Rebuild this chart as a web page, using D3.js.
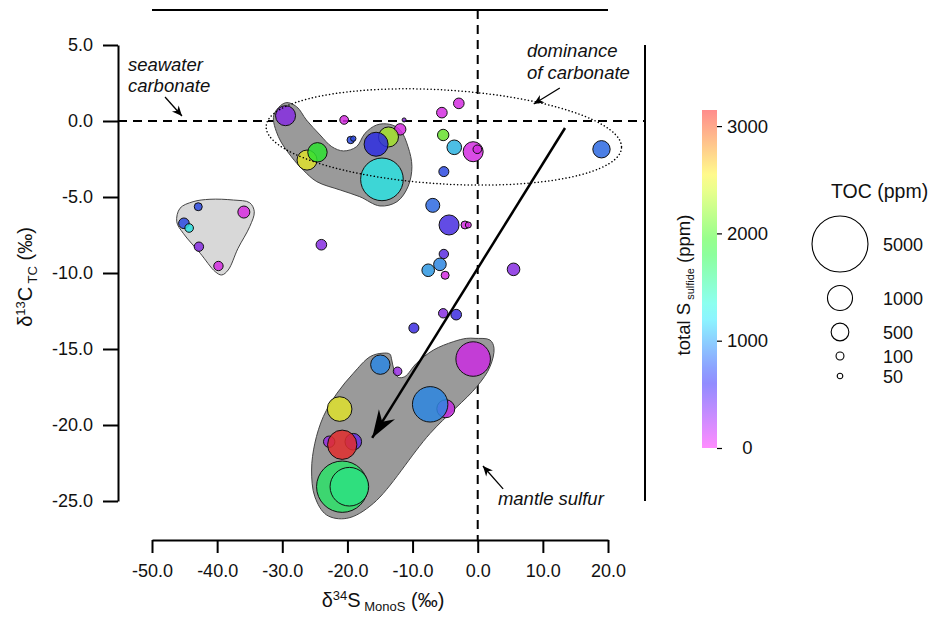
<!DOCTYPE html>
<html>
<head>
<meta charset="utf-8">
<script src="https://cdn.jsdelivr.net/npm/d3@7"></script>
<style>
body { margin: 0; background: #fff; }
text { font-family: "Liberation Sans", Arial, sans-serif; fill: #111; }
</style>
</head>
<body>
<svg id="chart" width="933" height="617"></svg>
<script>
// samples: d34S (monosulfide), d13C (total carbon), total sulfide (ppm), TOC (ppm)
const d34S = [-29.5, -20.5, -19.5, -19.1, -26.2, -24.6, -11.9, -11.3, -13.7, -15.6, -14.7,
    -5.5, -2.9, -5.3, -3.6, -0.7, -0.06, -5.2, 19.0,
    -42.9, -35.9, -45.1, -44.3, -42.8, -39.8,
    -6.9, -4.4, -1.95, -1.44, -24.0, -5.2, -5.8, -7.6, -5.0, 5.5, -5.3, -3.3, -9.8,
    -0.7, -14.95, -12.3, -4.9, -7.3, -21.2, -22.8, -19.1, -20.8, -20.8, -19.7]
const d13C = [0.35, 0.07, -1.25, -1.16, -2.57, -2.06, -0.55, 0.07, -1.05, -1.53, -3.84,
    0.55, 1.16, -0.92, -1.73, -2.02, -1.86, -3.33, -1.86,
    -5.64, -5.99, -6.73, -7.04, -8.27, -9.54,
    -5.55, -6.84, -6.84, -6.84, -8.14, -8.75, -9.43, -9.82, -10.15, -9.76, -12.65, -12.74, -13.62,
    -15.66, -16.03, -16.47, -18.93, -18.64, -18.95, -21.1, -21.1, -21.3, -24.06, -24.06]
const sulfide = [320, 50, 730, 730, 2510, 1880, 50, 300, 2300, 630, 1260,
    50, 50, 2090, 1100, 50, 50, 730, 840,
    730, 30, 730, 1260, 320, 50,
    840, 540, 50, 50, 320, 470, 940, 1000, 50, 320, 320, 580, 580,
    80, 940, 260, 100, 940, 2510, 260, 420, 3150, 1680, 1600]
const toc = [640, 120, 87, 46, 640, 600, 207, 26, 640, 920, 2900,
    180, 180, 207, 340, 640, 118, 160, 480,
    102, 230, 180, 118, 140, 140,
    312, 640, 102, 57, 180, 140, 253, 253, 102, 253, 140, 180, 160,
    1900, 600, 118, 516, 2000, 970, 207, 440, 1370, 4200, 2380]

const xTicks = [-50, -40, -30, -20, -10, 0, 10, 20]
const yTicks = [5, 0, -5, -10, -15, -20, -25]
const sulfideTicks = [0, 1000, 2000, 3000]
const tocLegend = [5000, 1000, 500, 100, 50]

// hand-drawn grouping outlines, in data units
const blobUpper = [[-29.5, 1.2], [-31.3, 0.39], [-30.6, -1.03], [-28.6, -2.35], [-26.8, -3.22], [-24.7, -3.99],
    [-21.1, -4.54], [-18.1, -4.98], [-15.0, -5.59], [-12.4, -5.31], [-10.7, -4.32], [-10.1, -3.0],
    [-10.7, -1.69], [-11.9, -0.59], [-13.5, -0.22], [-15.5, -0.26], [-17.3, -0.81], [-18.6, -1.69],
    [-20.6, -1.97], [-22.4, -1.69], [-24.2, -0.92], [-26.3, 0.07], [-27.8, 0.94]]
const blobLeft = [[-45.7, -5.74], [-43.7, -5.31], [-41.1, -5.15], [-37.5, -5.2], [-35.0, -5.38], [-34.3, -5.97],
    [-35.0, -6.95], [-36.8, -8.38], [-38.3, -9.8], [-39.3, -10.13], [-40.3, -9.91], [-42.6, -8.7],
    [-45.2, -7.39], [-46.2, -6.63]]
const blobLower = [[-0.41, -14.3], [1.89, -14.41], [2.5, -14.95], [1.89, -16.16], [-0.15, -17.48], [-7.3, -20.55],
    [-16.0, -25.15], [-20.1, -26.14], [-23.2, -25.92], [-25.0, -24.72], [-25.5, -22.96], [-25.0, -21.2],
    [-23.7, -19.45], [-21.6, -17.91], [-19.1, -16.6], [-16.5, -15.5], [-14.7, -15.28], [-13.5, -15.33],
    [-13.2, -15.72], [-12.85, -16.38], [-12.2, -16.86], [-11.2, -16.82], [-9.4, -15.94], [-6.8, -15.07],
    [-3.75, -14.52], [-1.7, -14.3]]

const svg = d3.select("#chart")
const x = d3.scaleLinear().domain([-50, 20]).range([152, 608])
const y = d3.scaleLinear().domain([-25, 5]).range([501, 45])
const r = d3.scaleSqrt().domain([0, 5000]).range([0, 28])
const hue = d3.scaleLinear().domain([0, 3150]).range([300, 0])
const pointColor = v => d3.hsl(hue(v), 0.75, 0.53).toString()
const barColor = v => d3.hsl(hue(v), 1, 0.5).toString()
const font = "'Liberation Sans', Arial, sans-serif"

const defs = svg.append("defs")
defs.append("marker").attr("id", "bigHead")
    .attr("markerUnits", "userSpaceOnUse").attr("orient", "auto")
    .attr("viewBox", "-28 -10 30 20").attr("refX", 0).attr("refY", 0)
    .attr("markerWidth", 30).attr("markerHeight", 20)
    .append("path").attr("d", "M0,0 L-28,-9.5 L-19,0 L-28,9.5 Z").attr("fill", "#000")
defs.append("marker").attr("id", "smallHead")
    .attr("markerUnits", "userSpaceOnUse").attr("orient", "auto")
    .attr("viewBox", "-11 -5 12 10").attr("refX", 0).attr("refY", 0)
    .attr("markerWidth", 12).attr("markerHeight", 10)
    .append("path").attr("d", "M0,0 L-10,-4.5 L-7,0 L-10,4.5 Z").attr("fill", "#000")

// zero reference lines
svg.append("line")
    .attr("x1", 118).attr("x2", 645).attr("y1", y(0)).attr("y2", y(0))
    .attr("stroke", "#000").attr("stroke-width", 2).attr("stroke-dasharray", "9,6")
svg.append("line")
    .attr("x1", x(0)).attr("x2", x(0)).attr("y1", 10).attr("y2", 540)
    .attr("stroke", "#000").attr("stroke-width", 2).attr("stroke-dasharray", "9,6")

// grouping blobs
const blobLine = d3.line().x(d => x(d[0])).y(d => y(d[1])).curve(d3.curveCatmullRomClosed.alpha(0.5))
svg.append("path").attr("d", blobLine(blobUpper))
    .attr("fill", "#9a9a9a").attr("stroke", "#444").attr("stroke-width", 1)
svg.append("path").attr("d", blobLine(blobLeft))
    .attr("fill", "#d8d8d8").attr("stroke", "#444").attr("stroke-width", 1)
svg.append("path").attr("d", blobLine(blobLower))
    .attr("fill", "#9a9a9a").attr("stroke", "#444").attr("stroke-width", 1)

// samples
const samples = d34S.map((v, i) => ({ s: v, c: d13C[i], sulfide: sulfide[i], toc: toc[i] }))
svg.append("g").selectAll("circle")
    .data(samples)
    .join("circle")
    .attr("cx", d => x(d.s))
    .attr("cy", d => y(d.c))
    .attr("r", d => r(d.toc))
    .attr("fill", d => pointColor(d.sulfide))
    .attr("fill-opacity", 0.85)
    .attr("stroke", "#111")
    .attr("stroke-width", 1)

// carbonate envelope
svg.append("ellipse")
    .attr("transform", `translate(${x(-5.2)},${y(-1.05)}) rotate(3.5)`)
    .attr("rx", 178).attr("ry", 47)
    .attr("fill", "none").attr("stroke", "#000").attr("stroke-width", 1.5)
    .attr("stroke-dasharray", "0.1,3.4").attr("stroke-linecap", "round")

// arrows
svg.append("line")
    .attr("x1", x(13.4)).attr("y1", y(-0.46)).attr("x2", x(-16.2)).attr("y2", y(-20.85))
    .attr("stroke", "#000").attr("stroke-width", 2.5).attr("marker-end", "url(#bigHead)")
const smallArrows = [[[-48.0, 1.58], [-45.4, 0.33]], [[12.6, 2.17], [8.6, 1.12]], [[3.9, -24.2], [0.8, -22.7]]]
svg.append("g").selectAll("line")
    .data(smallArrows)
    .join("line")
    .attr("x1", d => x(d[0][0])).attr("y1", d => y(d[0][1]))
    .attr("x2", d => x(d[1][0])).attr("y2", d => y(d[1][1]))
    .attr("stroke", "#000").attr("stroke-width", 1.3).attr("marker-end", "url(#smallHead)")

// annotations
const notes = [
    { t: "seawater", at: [-53.7, 3.29] },
    { t: "carbonate", at: [-53.7, 1.91] },
    { t: "dominance", at: [7.57, 4.21] },
    { t: "of carbonate", at: [7.57, 2.76] },
    { t: "mantle sulfur", at: [3.1, -25.26] }
]
svg.append("g").selectAll("text")
    .data(notes)
    .join("text")
    .attr("x", d => x(d.at[0])).attr("y", d => y(d.at[1]))
    .attr("font-style", "italic").attr("font-size", 18.5)
    .text(d => d.t)

// frame lines without ticks
svg.append("line").attr("x1", 152).attr("x2", 608).attr("y1", 10).attr("y2", 10)
    .attr("stroke", "#000").attr("stroke-width", 2)
svg.append("line").attr("x1", 645).attr("x2", 645).attr("y1", 45).attr("y2", 501)
    .attr("stroke", "#000").attr("stroke-width", 2)

// axes
const xAxis = svg.append("g").attr("transform", "translate(0,540)")
    .call(d3.axisBottom(x).tickValues(xTicks).tickSize(13).tickSizeOuter(0).tickPadding(11)
        .tickFormat(d => d.toFixed(1)))
const yAxis = svg.append("g").attr("transform", "translate(118,0)")
    .call(d3.axisLeft(y).tickValues(yTicks).tickSize(15).tickSizeOuter(0).tickPadding(10)
        .tickFormat(d => d.toFixed(1)))
for (const ax of [xAxis, yAxis]) {
    ax.select(".domain").attr("stroke-width", 2)
    ax.selectAll(".tick line").attr("stroke-width", 2)
    ax.selectAll(".tick text").attr("font-size", 18).attr("fill", "#111").style("font-family", font)
}

const xTitle = svg.append("text").attr("x", 383).attr("y", 607).attr("text-anchor", "middle").attr("font-size", 20)
xTitle.append("tspan").text("δ")
xTitle.append("tspan").attr("font-size", 13).attr("baseline-shift", "55%").text("34")
xTitle.append("tspan").text("S")
xTitle.append("tspan").attr("font-size", 13).attr("dy", 4).text(" MonoS")
xTitle.append("tspan").attr("dy", -4).text(" (‰)")

const yTitle = svg.append("text").attr("transform", "translate(32,277) rotate(-90)")
    .attr("text-anchor", "middle").attr("font-size", 20)
yTitle.append("tspan").text("δ")
yTitle.append("tspan").attr("font-size", 13).attr("baseline-shift", "55%").text("13")
yTitle.append("tspan").text("C")
yTitle.append("tspan").attr("font-size", 13).attr("dy", 5).text(" TC")
yTitle.append("tspan").attr("dy", -5).text(" (‰)")

// colour bar
const cb = d3.scaleLinear().domain([0, 3150]).range([448, 110])
const grad = defs.append("linearGradient").attr("id", "sulfideGrad")
    .attr("x1", 0).attr("x2", 0).attr("y1", 1).attr("y2", 0)
grad.selectAll("stop")
    .data(d3.range(0, 3151, 150))
    .join("stop")
    .attr("offset", d => d / 3150)
    .attr("stop-color", d => barColor(d))
svg.append("rect").attr("x", 702).attr("y", cb(3150)).attr("width", 15).attr("height", cb(0) - cb(3150))
    .attr("fill", "url(#sulfideGrad)").attr("opacity", 0.45)
const cbAxis = svg.append("g").attr("transform", "translate(717,0)")
    .call(d3.axisRight(cb).tickValues(sulfideTicks).tickSize(5).tickSizeOuter(0).tickFormat(d3.format("d")))
cbAxis.select(".domain").remove()
cbAxis.selectAll(".tick line").attr("stroke-width", 1.2)
cbAxis.selectAll(".tick text").attr("font-size", 18.5).attr("fill", "#111").style("font-family", font)
    .attr("text-anchor", "middle").attr("x", 30.5)

const cbTitle = svg.append("text").attr("transform", "translate(690,285) rotate(-90)")
    .attr("text-anchor", "middle").attr("font-size", 18.5)
cbTitle.append("tspan").text("total S")
cbTitle.append("tspan").attr("font-size", 11).attr("dy", 4).text(" sulfide")
cbTitle.append("tspan").attr("dy", -4).text(" (ppm)")

// TOC size legend
svg.append("text").attr("x", 831).attr("y", 198).attr("font-size", 19.5).text("TOC (ppm)")
const legendY = [244, 298, 332, 356, 376]
const legend = svg.append("g").selectAll("g")
    .data(tocLegend)
    .join("g")
    .attr("transform", (d, i) => `translate(840,${legendY[i]})`)
legend.append("circle").attr("r", d => r(d)).attr("fill", "none").attr("stroke", "#000").attr("stroke-width", 1.1)
legend.append("text").attr("x", 43).attr("y", 6.5).attr("font-size", 18).text(d => d)
</script>
</body>
</html>
